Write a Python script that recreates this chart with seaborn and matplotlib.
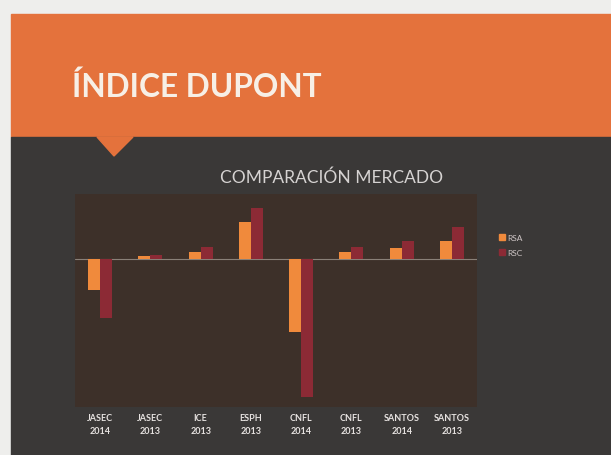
import pandas as pd
import matplotlib.pyplot as plt
import seaborn as sns
from matplotlib.patches import Rectangle, Polygon
from matplotlib.lines import Line2D

# datos (escala aproximada, sin eje visible)
empresas = ['JASEC\n2014', 'JASEC\n2013', 'ICE\n2013', 'ESPH\n2013',
            'CNFL\n2014', 'CNFL\n2013', 'SANTOS\n2014', 'SANTOS\n2013']
rsa = [-3.1, 0.3, 0.7, 3.7, -7.3, 0.7, 1.1, 1.8]
rsc = [-5.9, 0.4, 1.2, 5.1, -13.8, 1.2, 1.8, 3.2]
series = ['RSA', 'RSC']

colores = {'RSA': '#f08a3c', 'RSC': '#8c2a35'}

df = pd.DataFrame({'empresa': empresas * 2,
                   'valor': rsa + rsc,
                   'serie': ['RSA'] * len(rsa) + ['RSC'] * len(rsc)})

sns.set_theme(style='dark')
plt.rcParams['font.family'] = ['Lato', 'DejaVu Sans']

W, H = 611, 456
fig = plt.figure(figsize=(W / 100, H / 100), dpi=100)
fig.patch.set_facecolor('#eeeeec')

# fondo de la diapositiva
def px_rect(x0, y0, x1, y1, color):
    fig.patches.append(Rectangle((x0 / W, 1 - y1 / H), (x1 - x0) / W, (y1 - y0) / H,
                                 transform=fig.transFigure, color=color, zorder=-2))

px_rect(11, 15, W, 138, '#e4723c')
px_rect(11, 138, W, H, '#3a3837')
fig.patches.append(Polygon([(97 / W, 1 - 138 / H), (133 / W, 1 - 138 / H), (114 / W, 1 - 157 / H)],
                           closed=True, transform=fig.transFigure, color='#e4723c', zorder=-1))

fig.text(72 / W, 1 - 97 / H, 'ÍNDICE DUPONT', fontsize=22.8, fontweight='bold',
         color='#f7efe6', ha='left', va='baseline')
fig.text(332 / W, 1 - 178 / H, 'COMPARACIÓN MERCADO', fontsize=12.5,
         color='#d6d3d2', ha='center', va='center')

ax = fig.add_axes([75 / W, 48 / H, 402 / W, 213 / H])
ax.set_facecolor('#3d3029')
sns.barplot(data=df, x='empresa', y='valor', hue='serie', palette=colores,
            width=0.48, saturation=1, linewidth=0, ax=ax, legend=False)
ax.set_ylim(-14.8, 6.5)
ax.set_xlim(-0.5, 7.5)
ax.axhline(0, color='#8a8078', lw=0.8, zorder=0.5)
ax.set_xlabel('')
ax.set_ylabel('')
ax.set_yticks([])
ax.tick_params(axis='x', length=0, pad=4, labelsize=6.5, colors='#e6e2e0')
for lbl in ax.get_xticklabels():
    lbl.set_fontweight('bold')
    lbl.set_linespacing(1.7)
for s in ax.spines.values():
    s.set_visible(False)

handles = [Line2D([], [], marker='s', ls='', markersize=4, color=colores[s]) for s in series]
fig.legend(handles, series, loc='center left', bbox_to_anchor=(494 / W, 1 - 246 / H),
           frameon=False, fontsize=6, labelcolor='#cfc6c6', handletextpad=0.1,
           labelspacing=0.9, borderpad=0, handlelength=1)

fig.savefig('out.png', dpi=100, facecolor=fig.get_facecolor())
